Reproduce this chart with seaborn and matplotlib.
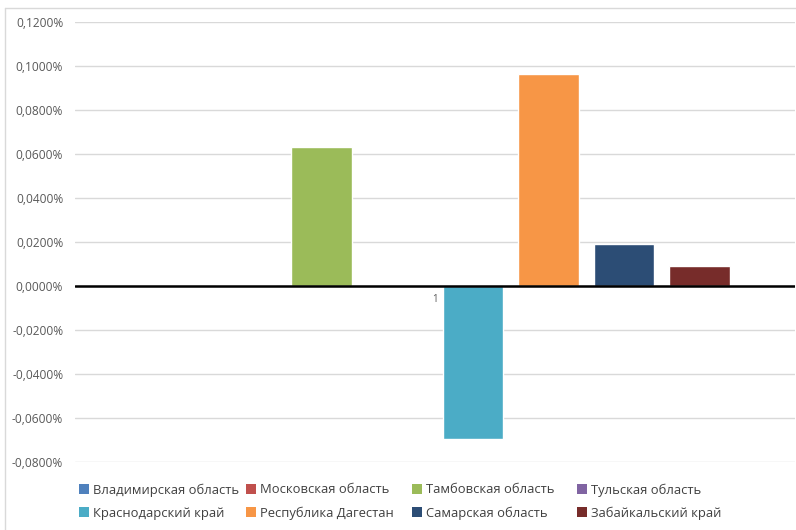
import matplotlib
matplotlib.use("Agg")
import matplotlib.pyplot as plt
import matplotlib.ticker as mticker
from matplotlib.lines import Line2D
from matplotlib.patches import Patch
import seaborn as sns
import pandas as pd

# Regions and their values (as fractions; 0.001 = 0.1%)
regions = [
    "Владимирская область", "Московская область", "Тамбовская область",
    "Тульская область", "Краснодарский край", "Республика Дагестан",
    "Самарская область", "Забайкальский край",
]
values = [0.0, 0.000004, 0.000632, 0.0, -0.000695, 0.000964, 0.000191, 0.000091]
colors = ["#4F81BD", "#C0504D", "#9BBB59", "#8064A2",
          "#4BACC6", "#F79646", "#2C4D75", "#772C2A"]
category = ["1"] * len(regions)
yticks = [-0.0008, -0.0006, -0.0004, -0.0002, 0.0, 0.0002,
          0.0004, 0.0006, 0.0008, 0.0010, 0.0012]

df = pd.DataFrame({"cat": category, "region": regions, "value": values})

sns.set_theme(style="white")
plt.rcParams["font.family"] = ["Open Sans", "DejaVu Sans"]

fig = plt.figure(figsize=(7.96, 5.30), dpi=100)
ax = fig.add_axes([75 / 796, 1 - 462 / 530, 720 / 796, 440 / 530])

sns.barplot(data=df, x="cat", y="value", hue="region", hue_order=regions,
            palette=colors, width=0.84, gap=0.2, saturation=1,
            legend=False, ax=ax, zorder=3)

ax.set_ylim(-0.0008, 0.0012)
ax.set_xlim(-0.5, 0.5)
ax.set_yticks(yticks)
ax.yaxis.set_major_formatter(
    mticker.FuncFormatter(lambda v, p: f"{v * 100:.4f}%".replace(".", ",")))
ax.tick_params(axis="y", length=0, pad=8.5, labelsize=8.6, labelcolor="#595959")
ax.grid(axis="y", color="#d9d9d9", linewidth=1, zorder=0)
ax.grid(axis="x", visible=False)
for s in ax.spines.values():
    s.set_visible(False)

# zero line acting as the category axis
ax.axhline(0, color="black", linewidth=1.8, zorder=4)
ax.set_xticks([])
ax.set_xlabel("")
ax.set_ylabel("")
ax.text(0, -0.0000636, "1", ha="center", va="center", fontsize=7,
        color="#595959", zorder=2)

# legend: four equally spaced columns, two entries each (row-wise order)
col_x = [79, 246, 412, 577]
for c, x in enumerate(col_x):
    idx = [c, c + 4]
    handles = [Patch(facecolor=colors[i], edgecolor="none") for i in idx]
    labels = [regions[i] for i in idx]
    fig.legend(handles, labels, loc="center left",
               bbox_to_anchor=(x / 796, 1 - 501.5 / 530), frameon=False,
               fontsize=9.4, labelcolor="#404040", handlelength=0.75,
               handleheight=0.75, handletextpad=0.35, borderpad=0,
               borderaxespad=0, labelspacing=0.75)

# chart area border (top and left edges)
fig.add_artist(Line2D([5 / 796, 1], [1 - 8 / 530, 1 - 8 / 530],
                      color="#d9d9d9", linewidth=1, transform=fig.transFigure))
fig.add_artist(Line2D([5 / 796, 5 / 796], [0, 1 - 8 / 530],
                      color="#d9d9d9", linewidth=1, transform=fig.transFigure))

fig.savefig("out.png", dpi=100, facecolor="white")
